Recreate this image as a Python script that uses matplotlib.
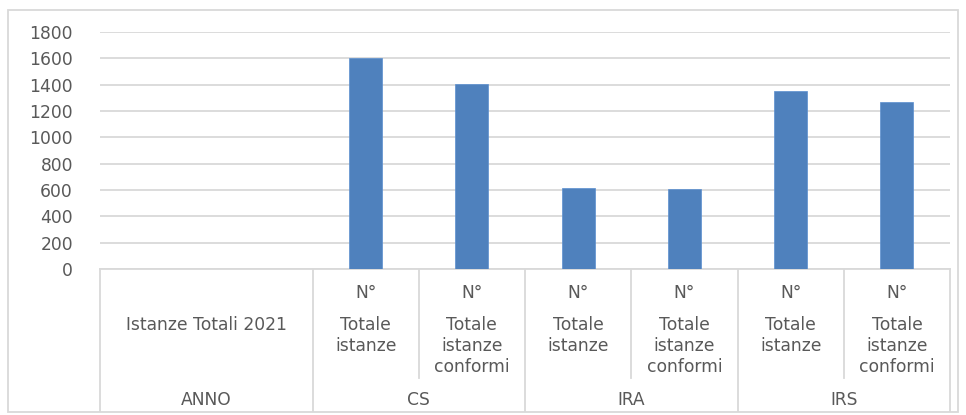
import numpy as np
import matplotlib
matplotlib.use("Agg")
import matplotlib.pyplot as plt
from matplotlib.transforms import blended_transform_factory
from matplotlib.lines import Line2D
from matplotlib.patches import Rectangle

plt.rcParams['font.family'] = ['DejaVu Sans']

# ---- data ----
groups = ["ANNO", "CS", "IRA", "IRS"]
first_label = "Istanze Totali 2021"
sub_prefix = "N°"
sub_labels = [["Totale", "istanze"], ["Totale", "istanze", "conformi"]] * 3
values = [1600, 1405, 612, 605, 1354, 1271]
yticks = [0, 200, 400, 600, 800, 1000, 1200, 1400, 1600, 1800]

W, H = 966, 415
fig = plt.figure(figsize=(W / 100, H / 100), dpi=100)

def fy(py):
    return 1 - py / H

def fx(px):
    return px / W

ax = fig.add_axes([fx(100), fy(269), fx(950) - fx(100), fy(32) - fy(269)])
ax.set_xlim(-0.5, 7.5)
ax.set_ylim(0, 1800)

bar_x = np.arange(2, 2 + len(values))
ax.bar(bar_x, values, width=0.31, color="#4F81BD", edgecolor="#5B8FD0", linewidth=0.5, zorder=3)

fs = 12.3
tc = "#595959"
ax.set_yticks(yticks)
ax.set_yticklabels([str(t) for t in yticks], fontsize=fs, color=tc)
ax.yaxis.grid(True, color="#D9D9D9", linewidth=1.3, zorder=0)
ax.set_xticks([])
ax.tick_params(axis='y', length=0, pad=19.5)
for s in ax.spines.values():
    s.set_visible(False)
ax.axhline(0, color="#D9D9D9", linewidth=1.3, zorder=2, clip_on=False)

tr = blended_transform_factory(ax.transData, fig.transFigure)
lc = "#D9D9D9"
# full-height separators
for xv in [-0.5, 1.5, 3.5, 5.5, 7.5]:
    fig.add_artist(Line2D([xv, xv], [fy(269), fy(411)], transform=tr, color=lc, linewidth=1.3))
# inner separators
for xv in [2.5, 4.5, 6.5]:
    fig.add_artist(Line2D([xv, xv], [fy(269), fy(378)], transform=tr, color=lc, linewidth=1.3))

# first category label
ax.text(0.5, fy(325), first_label, transform=tr, ha='center', va='center', fontsize=fs, color=tc)
# sub labels
for i, lines in enumerate(sub_labels):
    xc = bar_x[i]
    ax.text(xc, fy(293), sub_prefix, transform=tr, ha='center', va='center', fontsize=fs, color=tc)
    for j, ln in enumerate(lines):
        ax.text(xc, fy(325 + 21 * j), ln, transform=tr, ha='center', va='center', fontsize=fs, color=tc)
# group labels
group_centers = [0.5, 2.5, 4.5, 6.5]
for g, xc in zip(groups, group_centers):
    ax.text(xc, fy(400), g, transform=tr, ha='center', va='center', fontsize=fs, color=tc)

# outer border
fig.add_artist(Rectangle((fx(8), fy(412)), fx(958) - fx(8), fy(10) - fy(412),
                         transform=fig.transFigure, fill=False, edgecolor="#D9D9D9", linewidth=1.3))

fig.savefig("out.png", dpi=100)
